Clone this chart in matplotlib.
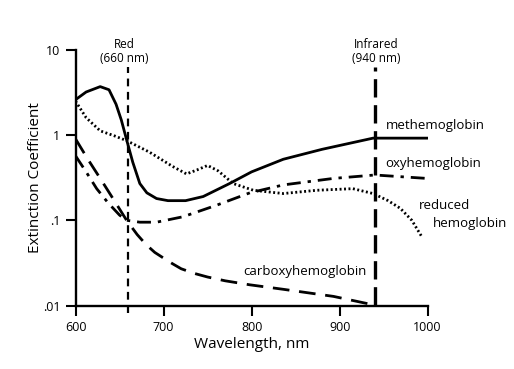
import numpy as np
import matplotlib
matplotlib.use("Agg")
import matplotlib.pyplot as plt

plt.rcParams['font.family'] = ['Open Sans', 'DejaVu Sans']

# curves (wavelength in nm, extinction coefficient)
met_nm = [600, 612, 628, 638, 646, 652, 658, 665, 673, 681, 692, 705, 725, 745, 775, 800, 836, 880, 938, 1003]
met_val = [2.6, 3.2, 3.7, 3.4, 2.3, 1.5, 0.88, 0.48, 0.27, 0.21, 0.18, 0.17, 0.17, 0.19, 0.27, 0.37, 0.52, 0.68, 0.92, 0.92]

oxy_nm = [600, 612, 624, 637, 650, 658, 673, 692, 722, 760, 798, 836, 893, 940, 999]
oxy_val = [0.57, 0.37, 0.235, 0.16, 0.115, 0.1, 0.095, 0.095, 0.11, 0.15, 0.21, 0.26, 0.31, 0.34, 0.31]

red_nm = [600, 612, 628, 644, 658, 684, 710, 726, 738, 750, 762, 779, 802, 836, 874, 915, 938, 955, 969, 982, 993]
red_val = [2.5, 1.6, 1.12, 0.98, 0.86, 0.63, 0.43, 0.35, 0.39, 0.44, 0.38, 0.27, 0.225, 0.206, 0.225, 0.235, 0.206, 0.17, 0.138, 0.1, 0.065]

carb_nm = [600, 614, 628, 644, 658, 670, 680, 690, 700, 710, 720, 735, 750, 770, 798, 836, 893, 940]
carb_val = [0.9, 0.52, 0.31, 0.17, 0.1, 0.068, 0.052, 0.042, 0.036, 0.031, 0.027, 0.0238, 0.0216, 0.0195, 0.0175, 0.0155, 0.0128, 0.0101]

yticks = [0.01, 0.1, 1, 10]
ytick_labels = ['.01', '.1', '1', '10']
xticks = [600, 700, 800, 900, 1000]

fig = plt.figure(figsize=(5.14, 3.69), dpi=100)
ax = fig.add_axes([0.147, 0.172, 0.685, 0.693])

ax.plot(met_nm, met_val, color='black', lw=2.0, solid_capstyle='butt')
ax.plot(oxy_nm, oxy_val, color='black', lw=2.0, dashes=(5, 2.5, 1.2, 2.5))
ax.plot(red_nm, red_val, color='black', lw=2.0, linestyle=(0, (0.7, 0.9)))
ax.plot(carb_nm, carb_val, color='black', lw=2.0, dashes=(6, 3.5))

# wavelength markers
ax.plot([660, 660], [0.0082, 6.3], color='black', lw=1.6, dashes=(3.5, 2.5), clip_on=False)
ax.plot([940, 940], [0.0101, 6.3], color='black', lw=2.4, dashes=(5.5, 2.3), clip_on=False)

ax.set_yscale('log')
ax.set_xlim(600, 1000)
ax.set_ylim(0.01, 10)
ax.set_yticks(yticks)
ax.set_yticklabels(ytick_labels)
ax.minorticks_off()
ax.set_xticks(xticks)

for s in ['top', 'right']:
    ax.spines[s].set_visible(False)
for s in ['left', 'bottom']:
    ax.spines[s].set_linewidth(1.7)
ax.tick_params(direction='out', length=7, width=1.5, labelsize=9, pad=4)

ax.set_xlabel('Wavelength, nm', fontsize=11, labelpad=2)
ax.set_ylabel('Extinction Coefficient', fontsize=11, labelpad=0)

ax.text(655, 6.7, 'Red\n(660 nm)', ha='center', va='bottom', fontsize=8.5, linespacing=1.05)
ax.text(942, 6.7, 'Infrared\n(940 nm)', ha='center', va='bottom', fontsize=8.5, linespacing=1.05)
ax.text(952, 1.28, 'methemoglobin', ha='left', va='center', fontsize=9.5)
ax.text(952, 0.47, 'oxyhemoglobin', ha='left', va='center', fontsize=9.5)
ax.text(990, 0.15, 'reduced', ha='left', va='center', fontsize=9.5)
ax.text(1006, 0.092, 'hemoglobin', ha='left', va='center', fontsize=9.5)
ax.text(931, 0.025, 'carboxyhemoglobin', ha='right', va='center', fontsize=9.5)

fig.savefig('out.png', dpi=100)
